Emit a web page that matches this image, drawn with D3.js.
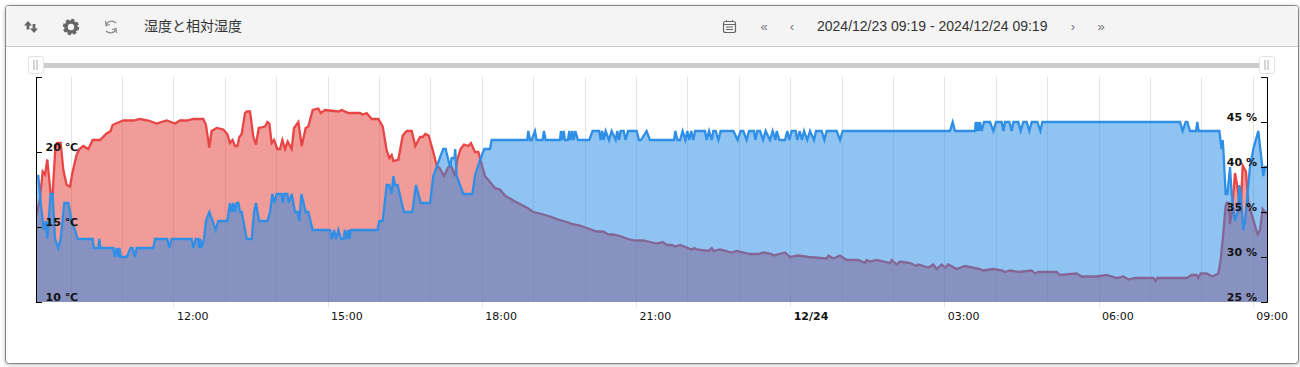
<!DOCTYPE html>
<html>
<head>
<meta charset="utf-8">
<script src="https://cdn.jsdelivr.net/npm/d3@7"></script>
<style>
  body { margin: 0; background: #fff; }
  svg { display: block; }
  .axis text { font-family: "DejaVu Sans", sans-serif; font-size: 11px; fill: #111; }
  .yaxis text { font-weight: bold; }
</style>
</head>
<body>
<div id="chart-container"></div>
<script>
// readings are [minutes after 2024/12/23 09:19, value]
const tempReadings = [
  [1.4,15.8],[5.2,16.9],[8.4,18.7],[11.1,18.5],[13.8,19.5],[17.7,17.2],[20,17.2],[23.1,20.2],[25.5,20.6],[29.4,20.6],
  [32.5,18.8],[36.4,17.8],[40.3,17.7],[43.4,18.7],[48,19.8],[51.2,20.2],[55.8,20.4],[61.7,20.2],[66.7,20.8],[75.3,20.8],
  [82.3,21.2],[87.7,21.4],[90,21.8],[97.9,22],[102.5,22.1],[114.2,22.1],[122,22.2],[131.7,22.1],[141.4,21.9],[153.1,22.1],
  [162.8,21.9],[168.7,22.1],[176.5,22.1],[184.2,22.2],[195.9,22.2],[199,21.8],[202.9,20.3],[205.6,21.4],[211.5,21.6],[219.2,21.5],
  [223.9,21.2],[227,20.6],[230,20.8],[233,20.4],[235.7,20.4],[238,21],[240.7,21.2],[244.6,22.6],[246.6,22.7],[250.4,22.7],
  [254.3,21],[257.4,20.5],[260.6,21.6],[268,21.7],[270.7,22],[273,21.9],[275.7,20.6],[278.5,20.8],[282.4,20.2],[285.5,20.2],
  [288.2,20.8],[291.3,20.2],[294.4,20.7],[299.1,20.2],[301.8,21.6],[306.9,22],[310.8,20.4],[315.4,21.6],[318.5,21.7],[323.6,22.8],
  [330.2,22.9],[333,22.6],[338,22.8],[353.6,22.7],[357.4,22.8],[365.2,22.6],[378.9,22.6],[382,22.5],[386.6,22.6],[392.5,22.2],
  [400.3,22.2],[405.3,21.7],[410,20.1],[413.1,19.6],[415.8,19.8],[417.8,19.4],[423.6,19.5],[428.7,21.1],[433.3,21.4],[439.2,21.4],
  [443.4,20.4],[448.9,21],[452,21],[455.1,21.2],[459,21.1],[464.4,20],[468.3,19.1],[472,18.9],[476.9,18.4],[482,19],
  [485,19.1],[489.7,18.4],[492.4,19.5],[496.3,20.2],[500.2,20.5],[505.3,20.4],[508.4,20.6],[513,20],[517,20],[519.7,19.4],
  [524.7,18.4],[530.6,18],[536.4,17.6],[542.2,17.5],[548,17.1],[559.8,16.7],[573.4,16.3],[581.1,16],[589,15.9],[600.6,15.7],
  [610.3,15.5],[622,15.3],[625.9,15.2],[635.6,15.1],[645.4,14.9],[655,14.7],[662.9,14.7],[668.7,14.5],[674.5,14.5],[682.3,14.4],
  [692,14.2],[699.8,14.1],[709.6,14.1],[717.4,14],[725.2,13.9],[732.2,14],[736.9,13.8],[742.7,13.8],[746.6,13.7],[752.4,13.8],
  [766,13.5],[769.2,13.6],[771.9,13.5],[785.5,13.4],[789.4,13.6],[791.3,13.4],[799.1,13.5],[812.7,13.3],[818.6,13.4],[834.1,13.2],
  [843.9,13.2],[849.7,13.3],[859.4,13.2],[861.4,13.1],[875,13.3],[880.8,13],[890.6,13.1],[902.2,13],[923.6,12.9],[925.6,13.1],
  [931.4,12.9],[939.2,13.1],[947,12.8],[960.6,12.8],[968.4,12.6],[970.3,12.8],[974.2,12.7],[982,12.8],[997.6,12.6],[999.5,12.8],
  [1005.3,12.5],[1009.2,12.7],[1020.9,12.6],[1028.7,12.4],[1030.6,12.5],[1042.3,12.3],[1048.1,12.5],[1052,12.2],[1057.9,12.5],[1061.8,12.3],
  [1065.6,12.5],[1075.4,12.2],[1085.1,12.4],[1102.6,12.2],[1105.8,12.1],[1118.2,12.2],[1129.1,12.1],[1131.8,12],[1137.7,12.1],[1147.4,12],
  [1163,12.1],[1166.8,11.9],[1170.7,12],[1192.1,12],[1196,11.8],[1215.5,11.9],[1221.3,11.7],[1238.8,11.7],[1250.5,11.8],[1262.2,11.6],
  [1270,11.7],[1275.8,11.5],[1283.6,11.6],[1305,11.6],[1307.7,11.4],[1309.6,11.6],[1328.3,11.6],[1340,11.6],[1343.9,11.6],[1349.7,11.8],
  [1355.6,11.8],[1357.5,11.6],[1360.2,11.9],[1367.2,11.9],[1373.8,11.7],[1380.9,11.9],[1383.6,12.8],[1386.7,14.6],[1389.4,16.4],[1390.6,16.6],
  [1392.9,16.6],[1394.5,15.2],[1396.8,16.1],[1400.3,18.6],[1403,17.7],[1406.9,16],[1409.3,19.1],[1413.1,18.7],[1415.9,16.6],[1421,15.6],
  [1426.8,14.5],[1429.5,14.8],[1432.6,16.2],[1436.5,15.9],[1438,16]
];

const humidityReadings = [
  [1.4,39],[3.3,39],[5.2,37],[7.2,35],[9.9,33],[12.2,34],[13.8,32],[17.7,37],[20,37],[22.8,32],
  [26.6,31],[29.4,32],[33.6,36],[38.3,36],[42.2,34],[46.1,33],[49.2,32],[66.7,32],[68.3,31],[73.3,31],
  [74.5,32],[75.7,31],[90.8,31],[92.4,30],[94.7,31],[96.7,30],[97.9,31],[99.8,30],[106.4,30],[111.1,31],
  [113.4,31],[115.8,30],[118.1,31],[137.5,31],[139.5,32],[153.9,32],[156.2,31],[158.9,32],[182.3,32],[184.2,31],
  [187,32],[190,32],[191.2,31],[192.4,32],[193.6,31],[196.7,32],[199,34],[202.9,35],[206.8,34],[210.3,33],
  [213.4,34],[223.9,34],[227.1,36],[229,35],[231,36],[232.9,35],[234.9,36],[236.8,36],[238.8,35],[240.7,35],
  [242.7,34],[246.6,32],[252.4,32],[255.1,35],[257.4,36],[261,34],[270.7,34],[273.8,35],[276.5,37],[278.9,36],
  [281.6,37],[287.4,37],[288.6,36],[290.5,37],[294,37],[295.6,36],[299.1,37],[303,35],[306.1,35],[308,34],
  [310.4,37],[315.4,35],[318.5,35],[323.6,33],[343.8,33],[345.8,32],[348.5,33],[350.8,32],[353.6,33],[356.7,32],
  [359.8,32],[361,33],[363.3,32],[364.8,33],[366.4,32],[368,33],[399.1,33],[401.4,34],[405.3,34],[410,38],
  [413,38],[415.8,37],[417.8,39],[419.7,38],[422.8,38],[427.5,36],[430.2,35],[439.9,35],[444.2,38],[449.7,36],
  [460.6,36],[464.4,39],[468.3,40],[472,41],[476,42],[478.8,42],[483.9,40],[485.8,41],[489,41],[490,42],
  [491.7,39],[499.4,37],[510,37],[513,39],[519.7,41],[524,42],[530.6,42],[532.5,43],[574.1,43],[575.3,44],
  [577.3,43],[579.2,43],[583.1,44],[585,43],[592,43],[593.6,44],[595.5,43],[612.3,43],[613.4,44],[615,43],
  [616.6,44],[618.1,43],[621.6,43],[623.2,44],[624.7,43],[626.7,44],[628.2,43],[630.2,44],[633.3,43],[646.5,43],
  [650.4,44],[658.2,44],[659.8,43],[661.7,44],[663.2,43],[665.6,44],[669.5,43],[672.6,44],[677.3,43],[679.2,44],
  [681.1,43],[683.1,44],[686.6,44],[688.9,43],[691.7,44],[701.8,44],[704.5,43],[706.8,43],[713.4,44],[717.3,43],
  [745.4,43],[747,44],[749.3,43],[752.4,43],[755.5,44],[758.6,43],[761,44],[763.3,43],[765.6,44],[768,43],
  [770,44],[781.6,44],[783.5,43],[786.3,44],[789.4,43],[791.3,44],[794,44],[797.2,43],[799.9,44],[814.7,44],
  [819.7,43],[823.2,44],[826.3,44],[830.2,43],[833,44],[838.8,44],[840.4,43],[842.7,44],[845.8,44],[849.3,43],
  [852.4,44],[857.5,43],[860.6,44],[863.7,43],[865.3,44],[868.4,43],[875,43],[877.7,44],[880,43],[882.8,44],
  [887.4,44],[889.4,43],[892.1,44],[894.8,43],[897.2,44],[901,43],[904.2,44],[908.8,43],[911.2,44],[917.8,44],
  [920.9,43],[923.6,44],[935.3,44],[939.2,43],[942.3,44],[1067.6,44],[1070.7,45],[1073.4,44],[1096.8,44],[1097.6,45],
  [1098.8,44],[1099.9,45],[1101.5,44],[1102.6,45],[1104.6,44],[1107.3,45],[1114.3,45],[1118.2,44],[1121.3,45],[1127.9,45],
  [1129.9,44],[1131.8,45],[1136.9,45],[1139.6,44],[1141.6,45],[1147.4,45],[1150.1,44],[1153.2,45],[1157.1,45],[1160.2,44],
  [1163,45],[1169.6,45],[1173.1,44],[1175.4,45],[1336.1,45],[1339.2,44],[1342.7,45],[1344.7,45],[1347.8,44],[1354.8,44],
  [1356.3,45],[1357.9,44],[1382,44],[1384.7,42],[1385.9,43],[1386.7,42],[1389.4,37],[1391.4,37],[1394.5,40],[1396.4,37],
  [1400.3,34],[1403.4,35],[1405.4,38],[1407,37],[1410,33],[1412,34],[1417.8,40],[1421.7,42],[1427.5,44],[1433.4,39],
  [1435.3,40],[1438,40]
];

const tempTicks = [10, 15, 20, 25];
const humidityTicks = [25, 30, 35, 40, 45, 50];
const chartTitle = "湿度と相対湿度";
const rangeLabel = "2024/12/23 09:19 - 2024/12/24 09:19";

const startTime = new Date(2024, 11, 23, 9, 19);
const endTime = new Date(2024, 11, 24, 9, 19);

const width = 1300, height = 367;
const plot = { left: 37, right: 1267, top: 77, bottom: 302 };

const x = d3.scaleTime()
    .domain([startTime, endTime])
    .range([35.5, 1269]);
const yTemp = d3.scaleLinear()
    .domain([10, 25])
    .range([plot.bottom, plot.top]);
const yHum = d3.scaleLinear()
    .domain([25, 50])
    .range([plot.bottom, plot.top]);

const svg = d3.select("#chart-container")
    .append("svg")
    .attr("width", width)
    .attr("height", height);

// card + header
svg.append("rect")
    .attr("x", 5.5).attr("y", 5.5)
    .attr("width", 1293).attr("height", 358)
    .attr("rx", 3)
    .attr("fill", "#fff")
    .attr("stroke", "#858585")
    .style("filter", "drop-shadow(0 1px 2px rgba(0,0,0,.25))");
svg.append("path")
    .attr("d", "M6,46 V8 Q6,6 8,6 H1296 Q1298,6 1298,8 V46 Z")
    .attr("fill", "#f4f4f4");
svg.append("line")
    .attr("x1", 6).attr("x2", 1298)
    .attr("y1", 46.5).attr("y2", 46.5)
    .attr("stroke", "#ccc");

// header icons
const icons = svg.append("g");
icons.append("path")
    .attr("d", "M28,21 L32,25.5 H29.4 V29.5 H26.6 V25.5 H24 Z M34,33 L38,28.5 H35.4 V24 H32.6 V28.5 H30 Z")
    .attr("fill", "#666");
icons.append("circle")
    .attr("cx", 71).attr("cy", 27).attr("r", 5)
    .attr("fill", "none").attr("stroke", "#666").attr("stroke-width", 3.6);
icons.append("circle")
    .attr("cx", 71).attr("cy", 27).attr("r", 7)
    .attr("fill", "none").attr("stroke", "#666").attr("stroke-width", 2.4)
    .attr("stroke-dasharray", "3.2 2.3");
icons.append("path")
    .attr("d", "M106,25 A6,6 0 0 1 116,23 M105.5,21 L106,25.5 L110,24.5 M116,29 A6,6 0 0 1 106,31 M116.5,33 L116,28.5 L112,29.5")
    .attr("fill", "none").attr("stroke", "#888").attr("stroke-width", 1.2);
icons.append("rect")
    .attr("x", 723.5).attr("y", 21.5).attr("width", 12).attr("height", 11).attr("rx", 2)
    .attr("fill", "none").attr("stroke", "#666").attr("stroke-width", 1.2);
icons.append("path")
    .attr("d", "M724,24.5 H735 M726,27 H733 M726,29.5 H733 M726.5,20 V22 M732.5,20 V22")
    .attr("fill", "none").attr("stroke", "#666");

const navLabels = [["«", 764], ["‹", 792], ["›", 1073], ["»", 1101]];
svg.selectAll(".nav")
    .data(navLabels)
    .join("text")
    .attr("class", "nav")
    .attr("x", d => d[1]).attr("y", 31)
    .attr("text-anchor", "middle")
    .attr("font-family", "'Liberation Sans', sans-serif")
    .attr("font-size", 13)
    .attr("fill", "#777")
    .text(d => d[0]);

svg.append("text")
    .attr("x", 144).attr("y", 31)
    .attr("font-family", "'Noto Sans CJK JP', sans-serif")
    .attr("font-size", 14)
    .attr("fill", "#333")
    .text(chartTitle);
svg.append("text")
    .attr("x", 817).attr("y", 31)
    .attr("font-family", "'Liberation Sans', sans-serif")
    .attr("font-size", 14)
    .attr("fill", "#333")
    .text(rangeLabel);

// range slider
svg.append("rect")
    .attr("x", plot.left).attr("y", 63)
    .attr("width", plot.right - plot.left).attr("height", 5)
    .attr("fill", "#ccc");
[plot.left - 1, plot.right].forEach(cx => {
  svg.append("rect")
      .attr("x", cx - 7.5).attr("y", 56.5)
      .attr("width", 15).attr("height", 17).attr("rx", 2)
      .attr("fill", "#fff")
      .attr("stroke", "#e2e2e2");
  svg.append("path")
      .attr("d", `M${cx - 2},60 V70 M${cx + 1},60 V70`)
      .attr("stroke", "#aaa");
});

// grid
svg.append("g")
    .selectAll("line")
    .data(x.ticks(d3.timeHour.every(1)))
    .join("line")
    .attr("x1", d => Math.round(x(d)) + 0.5)
    .attr("x2", d => Math.round(x(d)) + 0.5)
    .attr("y1", plot.top)
    .attr("y2", d => d.getHours() % 3 === 0 ? plot.bottom + 5 : plot.bottom)
    .attr("stroke", "#e4e4e4");

svg.append("clipPath")
    .attr("id", "plot-clip")
    .append("rect")
    .attr("x", plot.left).attr("y", plot.top)
    .attr("width", plot.right - plot.left)
    .attr("height", plot.bottom - plot.top);

const series = svg.append("g").attr("clip-path", "url(#plot-clip)");

function drawSeries(readings, y, color, fill) {
  const area = d3.area()
      .x(d => x(d3.timeSecond.offset(startTime, d[0] * 60)))
      .y0(plot.bottom)
      .y1(d => y(d[1]));
  const line = d3.line()
      .x(d => x(d3.timeSecond.offset(startTime, d[0] * 60)))
      .y(d => y(d[1]));
  series.append("path")
      .datum(readings)
      .attr("fill", fill)
      .attr("d", area);
  series.append("path")
      .datum(readings)
      .attr("fill", "none")
      .attr("stroke", color)
      .attr("stroke-width", 2.3)
      .attr("d", line);
}

drawSeries(tempReadings, yTemp, "#e84545", "rgba(229,57,53,.5)");
drawSeries(humidityReadings, yHum, "#2f8fe6", "rgba(30,136,229,.5)");

// axes
const xAxis = svg.append("g")
    .attr("class", "axis")
    .attr("transform", `translate(0,${plot.bottom})`)
    .call(d3.axisBottom(x)
      .ticks(d3.timeHour.every(3))
      .tickSize(0)
      .tickFormat(d => d.getHours() === 0 ? d3.timeFormat("%m/%d")(d) : d3.timeFormat("%H:%M")(d)));
xAxis.select(".domain").remove();
xAxis.selectAll("text")
    .attr("text-anchor", "start")
    .attr("x", 3)
    .attr("y", 10)
    .style("font-weight", d => d.getHours() === 0 ? "bold" : null);

const leftAxis = svg.append("g")
    .attr("class", "axis yaxis")
    .attr("transform", `translate(${plot.left - 1},0)`)
    .call(d3.axisRight(yTemp)
      .tickValues(tempTicks)
      .tickSize(6)
      .tickFormat(d => d === 25 ? "" : `${d} ℃`));
leftAxis.select(".domain").attr("stroke", "#000");
leftAxis.selectAll("text").attr("x", 9.5).attr("dy", "-0.13em");

const rightAxis = svg.append("g")
    .attr("class", "axis yaxis")
    .attr("transform", `translate(${plot.right},0)`)
    .call(d3.axisLeft(yHum)
      .tickValues(humidityTicks)
      .tickSize(6)
      .tickFormat(d => d === 50 ? "" : `${d} %`));
rightAxis.select(".domain").attr("stroke", "#000");
rightAxis.selectAll("text").attr("x", -10).attr("dy", "-0.13em");
</script>
</body>
</html>
